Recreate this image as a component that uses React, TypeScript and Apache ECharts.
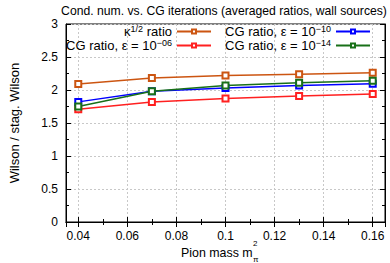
import React, { useEffect, useRef } from "react";
import * as echarts from "echarts";

const pionMass = [0.04, 0.07, 0.1, 0.13, 0.16];
const kappaRatio = [2.09, 2.18, 2.22, 2.24, 2.26];
const cgRatio06 = [1.71, 1.82, 1.87, 1.91, 1.94];
const cgRatio10 = [1.82, 1.98, 2.03, 2.07, 2.095];
const cgRatio14 = [1.75, 1.98, 2.07, 2.11, 2.14];

const seriesNames = ["kappa", "cg06", "cg10", "cg14"];
const seriesLabels = [
  "κ{sup|1/2} ratio",
  "CG ratio, ε = 10{sup|−06}",
  "CG ratio, ε = 10{sup|−10}",
  "CG ratio, ε = 10{sup|−14}",
];
const seriesColors = ["#cc5511", "#ff2020", "#0000ff", "#187018"];
const seriesValues = [kappaRatio, cgRatio06, cgRatio10, cgRatio14];

const FONT = "Liberation Sans, Arial, sans-serif";

export default function App() {
  const ref = useRef<HTMLDivElement>(null);
  useEffect(() => {
    if (!ref.current) return;
    const chart = echarts.init(ref.current, undefined, { renderer: "svg" });
    const rich = {
      sup: { fontSize: 9, fontFamily: FONT, color: "#000", padding: [0, 0, 6, 0] },
    };
    const legendPos = [
      { right: 178, top: 24 },
      { right: 178, top: 38 },
      { right: 19, top: 24 },
      { right: 19, top: 38 },
    ];
    const legends = seriesNames.map((n, i) => ({
      data: [n],
      ...legendPos[i],
      align: "right",
      itemWidth: 34,
      itemHeight: 5,
      itemGap: 0,
      padding: 0,
      selectedMode: false,
      formatter: () => seriesLabels[i],
      textStyle: { fontSize: 13, fontFamily: FONT, color: "#000", rich },
    }));
    const axisCommon = {
      axisLine: { show: true, lineStyle: { color: "#000", width: 1 } },
      axisTick: { show: true, inside: true, length: 5, lineStyle: { color: "#000" } },
      minorTick: { show: true, splitNumber: 2, length: 3, lineStyle: { color: "#000" } },
    };
    chart.setOption({
      animation: false,
      title: {
        text: "Cond. num. vs. CG iterations (averaged ratios, wall sources)",
        left: 219,
        textAlign: "center",
        top: 0,
        textStyle: { fontSize: 12.2, fontWeight: "normal", fontFamily: FONT, color: "#000" },
      },
      legend: legends,
      grid: { left: 58, right: 5, top: 24, bottom: 41, show: true, borderColor: "#000", borderWidth: 1 },
      xAxis: [
        {
          type: "value",
          min: 0.035,
          max: 0.165,
          splitNumber: 6,
          ...axisCommon,
          axisLabel: {
            showMinLabel: false,
            showMaxLabel: false,
            margin: 8,
            fontSize: 12,
            fontFamily: FONT,
            color: "#000",
          },
          splitLine: { show: true, lineStyle: { color: "#c8c8c8", type: [2, 2] } },
        },
        {
          type: "value",
          position: "top",
          min: 0.035,
          max: 0.165,
          splitNumber: 6,
          ...axisCommon,
          axisLabel: { show: false },
          splitLine: { show: false },
        },
      ],
      yAxis: [
        {
          type: "value",
          min: 0,
          max: 3,
          interval: 0.5,
          ...axisCommon,
          name: "Wilson / stag. Wilson",
          nameLocation: "middle",
          nameRotate: 90,
          nameGap: 45,
          nameTextStyle: { fontSize: 13, fontFamily: FONT, color: "#000" },
          axisLabel: { margin: 8, fontSize: 12, fontFamily: FONT, color: "#000" },
          splitLine: { show: true, lineStyle: { color: "#c8c8c8", type: [2, 2] } },
        },
        {
          type: "value",
          position: "right",
          min: 0,
          max: 3,
          interval: 0.5,
          ...axisCommon,
          axisLabel: { show: false },
          splitLine: { show: false },
        },
      ],
      graphic: [
        {
          type: "text",
          x: 181,
          y: 247,
          style: { text: "Pion mass m", fontSize: 12.4, fontFamily: FONT, fill: "#000" },
        },
        {
          type: "text",
          x: 253,
          y: 255,
          style: { text: "π", fontSize: 8, fontFamily: FONT, fill: "#000" },
        },
        {
          type: "text",
          x: 253,
          y: 239,
          style: { text: "2", fontSize: 8, fontFamily: FONT, fill: "#000" },
        },
      ],
      series: seriesNames.map((n, i) => ({
        name: n,
        type: "line",
        xAxisIndex: 0,
        yAxisIndex: 0,
        data: pionMass.map((x, j) => [x, seriesValues[i][j]]),
        symbol: "emptyRect",
        symbolSize: 6,
        showAllSymbol: true,
        lineStyle: { color: seriesColors[i], width: 1.5 },
        itemStyle: { color: seriesColors[i], borderColor: seriesColors[i], borderWidth: 1.5 },
      })),
    });
    return () => chart.dispose();
  }, []);
  return <div ref={ref} style={{ width: 390, height: 263, position: "absolute", left: 0, top: 0 }} />;
}
